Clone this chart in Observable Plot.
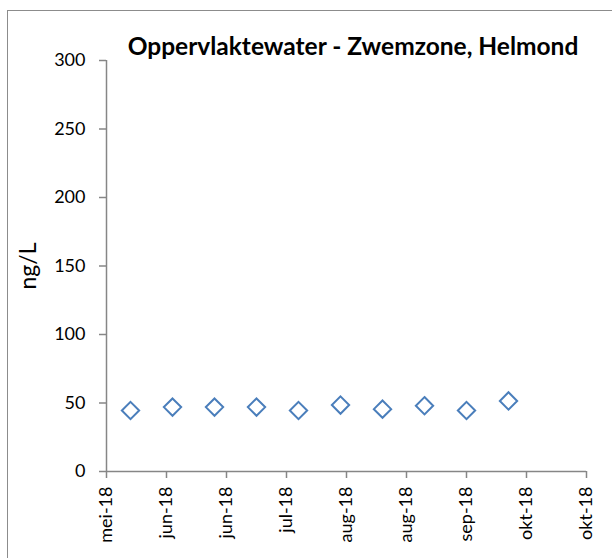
<!DOCTYPE html>
<html>
<head>
<meta charset="utf-8">
<script src="https://cdn.jsdelivr.net/npm/d3@7"></script>
<script src="https://cdn.jsdelivr.net/npm/@observablehq/plot@0.6"></script>
<style>
  html, body { margin: 0; padding: 0; background: #fff; }
  #wrap { position: relative; width: 612px; height: 558px; overflow: hidden; }
  #border { position: absolute; left: 7px; top: 10px; width: 800px; height: 800px; border: 1.5px solid #8c8c8c; box-sizing: border-box; }
  #chart { position: absolute; left: 0; top: 0; }
</style>
</head>
<body>
<div id="wrap"><div id="border"></div><div id="chart"></div></div>
<script>
const title = "Oppervlaktewater - Zwemzone, Helmond";
const yLabel = "ng/L";
const sampleDates = ["2018-05-28","2018-06-11","2018-06-25","2018-07-09","2018-07-23","2018-08-06","2018-08-20","2018-09-03","2018-09-17","2018-10-01"];
const values = [44.5, 47, 47, 47, 44.5, 48.5, 45.5, 48, 44.5, 51.5];
const xTickDates = ["2018-05-20","2018-06-09","2018-06-29","2018-07-19","2018-08-08","2018-08-28","2018-09-17","2018-10-07","2018-10-27"];
const xTickLabels = ["mei-18","jun-18","jun-18","jul-18","aug-18","aug-18","sep-18","okt-18","okt-18"];
const yTicks = [0, 50, 100, 150, 200, 250, 300];

const parse = s => new Date(s + "T00:00:00Z");
const data = sampleDates.map((d, i) => ({date: parse(d), value: values[i]}));
const xTicks = xTickDates.map(parse);
const labelMap = new Map(xTicks.map((d, i) => [+d, xTickLabels[i]]));

const font = "Lato, 'Open Sans', sans-serif";
const axisColor = "#868686";

const chart = Plot.plot({
  width: 612,
  height: 558,
  marginLeft: 106,
  marginRight: 26,
  marginTop: 60,
  marginBottom: 87,
  style: {fontFamily: font, fontSize: "18px", color: "#000", background: "transparent"},
  x: {type: "utc", domain: [xTicks[0], xTicks[xTicks.length - 1]]},
  y: {domain: [0, 300]},
  marks: [
    Plot.ruleX([xTicks[0]], {stroke: axisColor, strokeWidth: 1.5}),
    Plot.ruleY([0], {stroke: axisColor, strokeWidth: 1.5}),
    Plot.axisY({ticks: yTicks, tickSize: 7, tickPadding: 14, stroke: axisColor, strokeWidth: 1.5, fill: "#000", fontSize: 18, label: null}),
    Plot.axisX({ticks: xTicks, tickSize: 7, tickPadding: 8, tickRotate: -90, textAnchor: "end", stroke: axisColor, strokeWidth: 1.5, fill: "#000", fontSize: 18, label: null, tickFormat: d => labelMap.get(+d)}),
    Plot.dot(data, {x: "date", y: "value", symbol: "diamond2", r: 7.8, stroke: "#4A7EBB", strokeWidth: 2, fill: "none"}),
    Plot.text([title], {frameAnchor: "top", lineAnchor: "middle", dy: -13, dx: 6.5, fontSize: 24.5, fontWeight: "bold", fill: "#000"}),
    Plot.text([yLabel], {frameAnchor: "left", textAnchor: "middle", lineAnchor: "middle", dx: -78, dy: 0, rotate: -90, fontSize: 23, fontWeight: "normal", fill: "#000"})
  ]
});
document.getElementById("chart").appendChild(chart);
</script>
</body>
</html>
